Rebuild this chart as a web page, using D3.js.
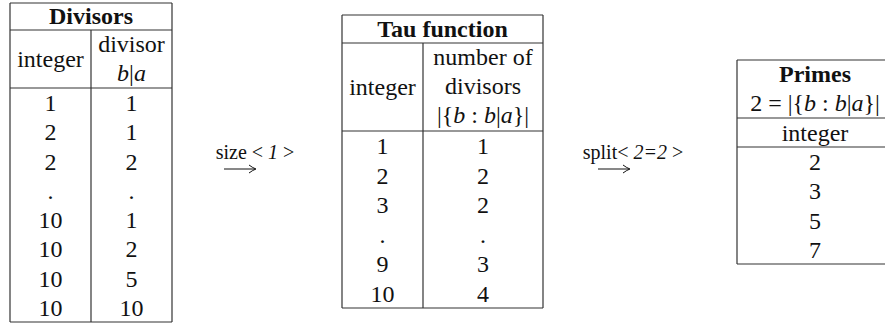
<!DOCTYPE html>
<html>
<head>
	<meta charset="utf-8">
	<style>
		body { margin: 0; background: #fff; }
	</style>
</head>
<body>
<div id="chartContainer"></div>
<script src="https://d3js.org/d3.v7.min.js"></script>
<script>

// Table contents
var divisorsInteger = ["1", "2", "2", ".", "10", "10", "10", "10"];
var divisorsDivisor = ["1", "1", "2", ".", "1", "2", "5", "10"];
var tauInteger = ["1", "2", "3", ".", "9", "10"];
var tauCount = ["1", "2", "2", ".", "3", "4"];
var primesInteger = ["2", "3", "5", "7"];

// Arrow labels, as [text, italic] pieces
var sizeLabel = [["size < ", false], ["1", true], [" >", false]];
var splitLabel = [["split< ", false], ["2=2", true], [" >", false]];

var width = 885, height = 324;
var fs = 24; // body font size
var font = "'Liberation Serif', 'Times New Roman', Times, 'DejaVu Serif', serif";
var lineColor = "#333";

var svg = d3.select("#chartContainer").append("svg")
	.attr("width", width).attr("height", height)
	.attr("font-family", font);

// write a string made of upright / italic pieces
function pieces(g, x, y, parts, size, anchor) {
	var t = g.append("text")
		.attr("x", x).attr("y", y).attr("dy", "0.35em")
		.attr("text-anchor", anchor || "middle")
		.attr("font-family", font)
		.attr("fill", "#111")
		.style("font-size", size + "px");
	parts.forEach(function (p) {
		t.append("tspan")
			.style("font-style", p[1] ? "italic" : "normal")
			.text(p[0]);
	});
	return t;
}

function hline(x0, x1, y) {
	svg.append("line").attr("x1", x0).attr("x2", x1).attr("y1", y).attr("y2", y)
		.attr("stroke", lineColor).attr("stroke-width", 1.2);
}
function vline(x, y0, y1) {
	svg.append("line").attr("x1", x).attr("x2", x).attr("y1", y0).attr("y2", y1)
		.attr("stroke", lineColor).attr("stroke-width", 1.2);
}

// rows of a body, positioned by a linear scale
function bodyRows(cols, xs, top, bottom) {
	var n = cols[0].length;
	var y = d3.scaleLinear().domain([0, n]).range([top, bottom]);
	cols.forEach(function (col, c) {
		svg.selectAll(null)
			.data(col)
			.enter()
			.append("text")
				.attr("x", xs[c])
				.attr("y", function (d, i) { return y(i + 0.5); })
				.attr("dy", "0.35em")
				.attr("text-anchor", "middle")
				.attr("font-family", font)
				.attr("fill", "#111")
				.style("font-size", fs + "px")
				.text(function (d) { return d; });
	});
}

// ---- Divisors table
var t1 = {x0: 10, xs: 91, x1: 172, top: 3, title: 30, head: 88, bottom: 322};
hline(t1.x0, t1.x1, t1.top);
hline(t1.x0, t1.x1, t1.title);
hline(t1.x0, t1.x1, t1.head);
hline(t1.x0, t1.x1, t1.bottom);
vline(t1.x0, t1.top, t1.bottom);
vline(t1.x1, t1.top, t1.bottom);
vline(t1.xs, t1.title, t1.bottom);
pieces(svg, (t1.x0 + t1.x1) / 2, 16, [["Divisors", false]], fs).style("font-weight", "bold");
pieces(svg, (t1.x0 + t1.xs) / 2, 59, [["integer", false]], fs);
pieces(svg, (t1.xs + t1.x1) / 2, 44, [["divisor", false]], fs);
pieces(svg, (t1.xs + t1.x1) / 2, 73, [["b", true], ["|", false], ["a", true]], fs);
bodyRows([divisorsInteger, divisorsDivisor], [(t1.x0 + t1.xs) / 2, (t1.xs + t1.x1) / 2], t1.head, t1.bottom);

// ---- Tau function table
var t2 = {x0: 342, xs: 423, x1: 543, top: 15, title: 43, head: 131, bottom: 308};
hline(t2.x0, t2.x1, t2.top);
hline(t2.x0, t2.x1, t2.title);
hline(t2.x0, t2.x1, t2.head);
hline(t2.x0, t2.x1, t2.bottom);
vline(t2.x0, t2.top, t2.bottom);
vline(t2.x1, t2.top, t2.bottom);
vline(t2.xs, t2.title, t2.bottom);
pieces(svg, (t2.x0 + t2.x1) / 2, 29, [["Tau function", false]], fs).style("font-weight", "bold");
pieces(svg, (t2.x0 + t2.xs) / 2, 87, [["integer", false]], fs);
pieces(svg, (t2.xs + t2.x1) / 2, 57, [["number of", false]], fs);
pieces(svg, (t2.xs + t2.x1) / 2, 86, [["divisors", false]], fs);
pieces(svg, (t2.xs + t2.x1) / 2, 115,
	[["|{", false], ["b", true], [" : ", false], ["b", true], ["|", false], ["a", true], ["}|", false]], fs);
bodyRows([tauInteger, tauCount], [(t2.x0 + t2.xs) / 2, (t2.xs + t2.x1) / 2], t2.head, t2.bottom);

// ---- Primes table (right edge runs past the frame)
var t3 = {x0: 737, x1: 893, top: 60, title: 118, head: 147, bottom: 264};
hline(t3.x0, t3.x1, t3.top);
hline(t3.x0, t3.x1, t3.title);
hline(t3.x0, t3.x1, t3.head);
hline(t3.x0, t3.x1, t3.bottom);
vline(t3.x0, t3.top, t3.bottom);
vline(t3.x1, t3.top, t3.bottom);
var c3 = (t3.x0 + t3.x1) / 2;
pieces(svg, c3, 74, [["Primes", false]], fs).style("font-weight", "bold");
pieces(svg, c3, 103,
	[["2 = |{", false], ["b", true], [" : ", false], ["b", true], ["|", false], ["a", true], ["}|", false]], fs);
pieces(svg, c3, 133, [["integer", false]], fs);
bodyRows([primesInteger], [c3], t3.head, t3.bottom);

// ---- Arrows between tables
function arrow(cx, cy, len) {
	var x0 = cx - len / 2, x1 = cx + len / 2;
	svg.append("line").attr("x1", x0).attr("x2", x1 - 1).attr("y1", cy).attr("y2", cy)
		.attr("stroke", "#111").attr("stroke-width", 1);
	svg.append("path")
		.attr("d", "M" + (x1 - 7) + "," + (cy - 4) + " Q" + (x1 - 3) + "," + (cy - 1) + " " + x1 + "," + cy +
			" Q" + (x1 - 3) + "," + (cy + 1) + " " + (x1 - 7) + "," + (cy + 4))
		.attr("fill", "none").attr("stroke", "#111").attr("stroke-width", 1);
}
pieces(svg, 255, 152, sizeLabel, 20);
arrow(240, 169, 32);
pieces(svg, 633, 152, splitLabel, 20);
arrow(614, 169, 32);

</script>
</body>
</html>
